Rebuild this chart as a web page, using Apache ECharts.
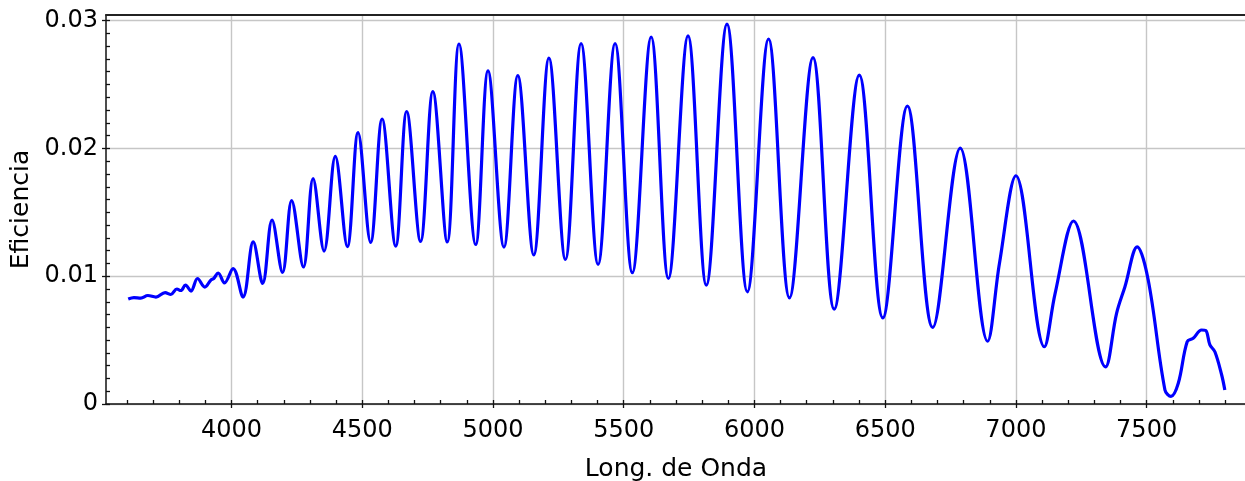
<!DOCTYPE html>
<html>
<head>
<meta charset="utf-8">
<script src="https://cdn.jsdelivr.net/npm/echarts@6/dist/echarts.min.js"></script>
<style>
  html, body { margin: 0; padding: 0; background: #fff; }
  #chart { width: 1245px; height: 481px; }
</style>
</head>
<body>
<div id="chart"></div>
<script>
// longitud de onda (x) y eficiencia (y)
const waveLength = [
	3605, 3627, 3653, 3680, 3711, 3746, 3768, 3791, 3806, 3824,
	3845, 3870, 3898, 3921, 3932, 3949, 3973, 4006, 4044, 4083,
	4119, 4155, 4195, 4230, 4275, 4312, 4354, 4397, 4443, 4484,
	4532, 4576, 4628, 4670, 4723, 4770, 4825, 4870, 4934, 4981,
	5042, 5095, 5156, 5214, 5277, 5337, 5402, 5467, 5533, 5605,
	5671, 5746, 5816, 5895, 5973, 6054, 6134, 6224, 6305, 6401,
	6491, 6585, 6682, 6787, 6892, 6937, 7000, 7109, 7150, 7220,
	7343, 7385, 7417, 7464, 7506, 7570, 7593, 7621, 7655, 7678,
	7710, 7726, 7742, 7761, 7787, 7799
]
const efficiency = [
	0.00822, 0.00833, 0.00829, 0.00849, 0.00837, 0.00872, 0.00857, 0.00900, 0.00888, 0.00931,
	0.00884, 0.00982, 0.00915, 0.00970, 0.00982, 0.01025, 0.00947, 0.01060, 0.00837, 0.01268,
	0.00943, 0.01440, 0.01029, 0.01592, 0.01072, 0.01764, 0.01197, 0.01937, 0.01232, 0.02124,
	0.01264, 0.02230, 0.01236, 0.02289, 0.01272, 0.02445, 0.01268, 0.02817, 0.01248, 0.02606,
	0.01228, 0.02570, 0.01166, 0.02707, 0.01131, 0.02821, 0.01092, 0.02821, 0.01027, 0.02872,
	0.00982, 0.02880, 0.00930, 0.02973, 0.00878, 0.02856, 0.00831, 0.02711, 0.00742, 0.02574,
	0.00674, 0.02332, 0.00599, 0.02003, 0.00491, 0.01100, 0.01786, 0.00448, 0.00866, 0.01432,
	0.00290, 0.00710, 0.00918, 0.01230, 0.00970, 0.00110, 0.00059, 0.00162, 0.00487, 0.00514,
	0.00579, 0.00575, 0.00462, 0.00409, 0.00227, 0.00110
]

const xTickLabels = [4000, 4500, 5000, 5500, 6000, 6500, 7000, 7500]
const yTickLabels = [0, 0.01, 0.02, 0.03]

// marcas menores: cada 100 en x, cada 0.001 en y
const xMinorTicks = []
for (let v = 3600; v <= 7800; v += 100) xMinorTicks.push(v)
const yMinorTicks = []
for (let i = 0; i <= 30; i++) yMinorTicks.push(+(i * 0.001).toFixed(3))

const X_MIN = 3520, X_MAX = 7880
const Y_MIN = 0, Y_MAX = 0.03044

const font = 'DejaVu Sans'
const axisColor = '#111'
const gridColor = '#c6c6c6'

const chart = echarts.init(document.getElementById('chart'))

chart.setOption({
	animation: false,
	grid: { left: 106, right: -1, top: 15, bottom: 77, outerBoundsMode: 'none', containLabel: false },
	xAxis: [
		{
			type: 'value', min: X_MIN, max: X_MAX, position: 'bottom',
			axisLine: { show: true, lineStyle: { color: axisColor, width: 1.5 } },
			axisTick: { show: true, inside: true, length: 4, customValues: xMinorTicks, lineStyle: { color: axisColor, width: 1.3 } },
			axisLabel: {
				customValues: xTickLabels, margin: 15, color: '#000', fontFamily: font, fontSize: 24,
				formatter: v => String(v),
			},
			splitLine: { show: false },
		},
		{
			type: 'value', min: X_MIN, max: X_MAX, position: 'bottom',
			name: 'Long. de Onda', nameLocation: 'middle', nameGap: 53,
			nameTextStyle: { color: '#000', fontFamily: font, fontSize: 25 },
			axisLine: { show: false },
			axisTick: { show: true, inside: false, length: 4, customValues: xTickLabels, lineStyle: { color: axisColor, width: 1.3 } },
			axisLabel: { show: false },
			splitLine: { show: true, lineStyle: { color: gridColor, width: 1.4 } },
		},
		{
			type: 'value', min: X_MIN, max: X_MAX, position: 'top',
			axisLine: { show: true, lineStyle: { color: '#222', width: 2 } },
			axisTick: { show: false }, axisLabel: { show: false }, splitLine: { show: false },
		},
	],
	yAxis: [
		{
			type: 'value', min: Y_MIN, max: Y_MAX, position: 'left',
			axisLine: { show: true, lineStyle: { color: axisColor, width: 1.5 } },
			axisTick: { show: true, inside: true, length: 4, customValues: yMinorTicks, lineStyle: { color: axisColor, width: 1.3 } },
			axisLabel: {
				customValues: yTickLabels, margin: 8, color: '#000', fontFamily: font, fontSize: 24,
				padding: [16, 0, 0, 0],
				formatter: v => (v === 0 ? '0' : String(v)),
			},
			splitLine: { show: false },
		},
		{
			type: 'value', min: Y_MIN, max: Y_MAX, position: 'left',
			name: 'Eficiencia', nameLocation: 'middle', nameGap: 72,
			nameTextStyle: { color: '#000', fontFamily: font, fontSize: 25 },
			axisLine: { show: false },
			axisTick: { show: true, inside: false, length: 4, customValues: yTickLabels, lineStyle: { color: axisColor, width: 1.3 } },
			axisLabel: { show: false },
			splitLine: { show: true, lineStyle: { color: gridColor, width: 1.4 } },
		},
	],
	series: [
		{
			type: 'line',
			xAxisIndex: 0,
			yAxisIndex: 0,
			data: waveLength.map((x, i) => [x, efficiency[i]]),
			smooth: 0.36,
			showSymbol: false,
			lineStyle: { color: '#0000ff', width: 3.2 },
			z: 5,
		},
	],
})
</script>
</body>
</html>
